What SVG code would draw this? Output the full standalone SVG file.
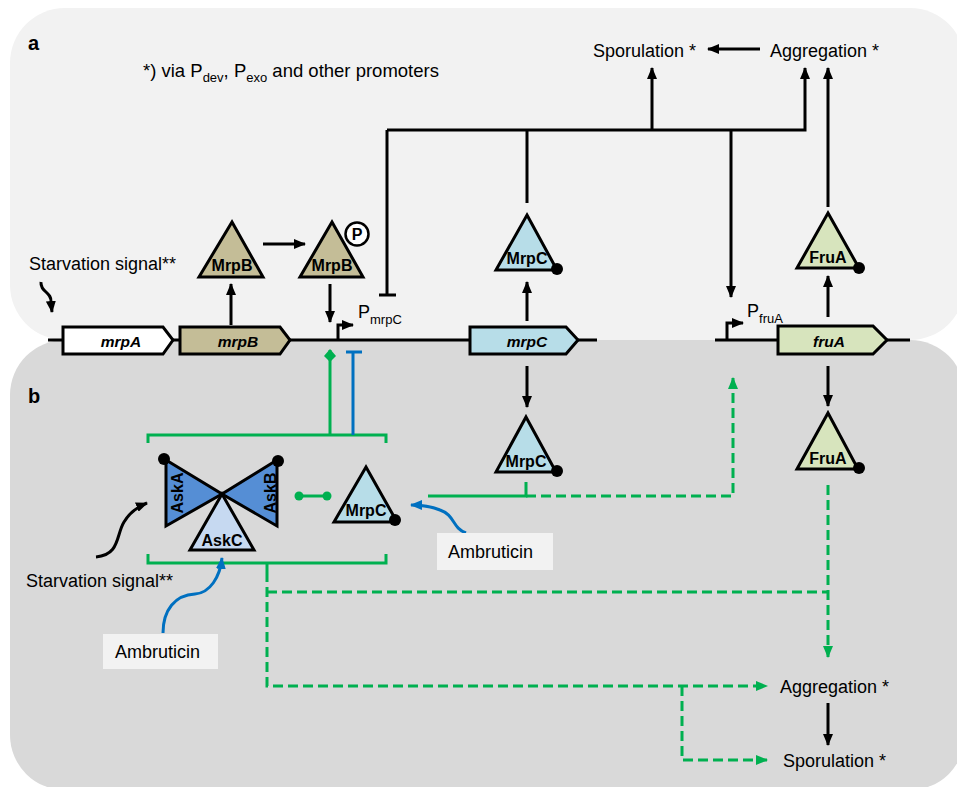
<svg xmlns="http://www.w3.org/2000/svg" width="957" height="787" viewBox="0 0 957 787">
<defs>
<style>
text{font-family:"Liberation Sans",Arial,sans-serif;fill:#000}
.lbl{font-size:18px}
.tri{stroke:#000;stroke-width:3;stroke-linejoin:miter}
.tt{font-size:16px;font-weight:bold;text-anchor:middle}
.gene{stroke:#000;stroke-width:3;stroke-linejoin:miter}
.gt{font-size:15.5px;font-weight:bold;font-style:italic;text-anchor:middle}
.bk{fill:none;stroke:#000;stroke-width:3}
.gr{fill:none;stroke:#00b050;stroke-width:3}
.grd{fill:none;stroke:#00b050;stroke-width:3;stroke-dasharray:10 5}
.bl{fill:none;stroke:#0070c0;stroke-width:3}
.dot{fill:#000}
.mb{fill:#c4bd97}.mc{fill:#b7dde8}.fa{fill:#d7e4bd}.ab{fill:#558ed5}.ac{fill:#c6d9f1}
</style>
<marker id="ak" markerUnits="userSpaceOnUse" markerWidth="12" markerHeight="10" refX="11" refY="5" orient="auto"><path d="M0,0 L12,5 L0,10 Z" fill="#000"/></marker>
<marker id="ag" markerUnits="userSpaceOnUse" markerWidth="12" markerHeight="10" refX="11" refY="5" orient="auto"><path d="M0,0 L12,5 L0,10 Z" fill="#00b050"/></marker>
<marker id="ab" markerUnits="userSpaceOnUse" markerWidth="12" markerHeight="10" refX="11" refY="5" orient="auto"><path d="M0,0 L12,5 L0,10 Z" fill="#0070c0"/></marker>
<marker id="dg" markerUnits="userSpaceOnUse" markerWidth="14" markerHeight="12" refX="12" refY="6" orient="auto"><path d="M0,6 L6,0 L13,6 L6,12 Z" fill="#00b050"/></marker>
</defs>

<g id="panels">
<rect x="10" y="8" width="955" height="332" rx="55" fill="#f2f2f2"/>
<rect x="10" y="340" width="955" height="450" rx="55" fill="#d9d9d9"/>
</g>

<g id="labels">
<text x="28" y="50" style="font-size:20px;font-weight:bold">a</text>
<text x="28" y="403" style="font-size:20px;font-weight:bold">b</text>
<text x="143" y="77" style="font-size:18.5px">*) via P<tspan dy="5" style="font-size:13px">dev</tspan><tspan dy="-5">, P</tspan><tspan dy="5" style="font-size:13px">exo</tspan><tspan dy="-5"> and other promoters</tspan></text>
</g>

<g id="dna">
<line x1="48" y1="340" x2="597" y2="340" stroke="#000" stroke-width="3"/>
<line x1="715" y1="340" x2="910" y2="340" stroke="#000" stroke-width="3"/>
</g>

<g id="connectors">
<!-- black -->
<path class="bk" d="M231,325 V284" marker-end="url(#ak)"/>
<path class="bk" d="M263,244 H305" marker-end="url(#ak)"/>
<path class="bk" d="M330,284 V322" marker-end="url(#ak)"/>
<path class="bk" d="M387,130 V295 M379,295 H396"/>
<path class="bk" d="M387,130 H805 V68" marker-end="url(#ak)"/>
<path class="bk" d="M652,130 V68" marker-end="url(#ak)"/>
<path class="bk" d="M527,203 V130"/>
<path class="bk" d="M731,130 V297" marker-end="url(#ak)"/>
<path class="bk" d="M828,207 V68" marker-end="url(#ak)"/>
<path class="bk" d="M527,321 V282" marker-end="url(#ak)"/>
<path class="bk" d="M828,317 V276" marker-end="url(#ak)"/>
<path class="bk" d="M527,366 V407" marker-end="url(#ak)"/>
<path class="bk" d="M828,366 V406" marker-end="url(#ak)"/>
<path class="bk" d="M760,49 H708" marker-end="url(#ak)"/>
<path class="bk" d="M828,703 V745" marker-end="url(#ak)"/>
<path class="bk" d="M338,340 V325 H353" stroke-width="2.5" marker-end="url(#ak)"/>
<path class="bk" d="M727,340 V323 H743" stroke-width="2.5" marker-end="url(#ak)"/>
<path class="bk" d="M41,282 C40,292 52,292 51,302 L52,312" marker-end="url(#ak)"/>
<path class="bk" d="M96,557 C120,555 116,535 124,522 C130,512 137,507 147,503" marker-end="url(#ak)"/>
<!-- green -->
<path class="gr" d="M330,435 V350" marker-end="url(#dg)"/>
<path class="gr" d="M148,443 V435 H386 V443"/>
<path class="gr" d="M148,554 V563 H386 V554"/>
<path class="gr" d="M299,496 H327"/>
<circle cx="299" cy="496" r="4.5" fill="#00b050"/>
<circle cx="327" cy="496" r="4.5" fill="#00b050"/>
<path class="gr" d="M428,496 H526 V482"/>
<path class="grd" d="M526,496 H733 V378" marker-end="url(#ag)"/>
<path class="gr" d="M267,563 V572"/>
<path class="grd" d="M267,572 V686 H767" marker-end="url(#ag)"/>
<path class="grd" d="M267,592 H828"/>
<path class="grd" d="M682,686 V760 H767" marker-end="url(#ag)"/>
<path class="grd" d="M828,485 V657" marker-end="url(#ag)"/>
<!-- blue -->
<path class="bl" d="M353,435 V352 M346,352 H362"/>
<path class="bl" d="M466,533 C452,528 455,515 440,510 C430,506 420,505 411,505" marker-end="url(#ab)"/>
<path class="bl" d="M163,633 C163,610 175,595 195,594 C210,593 220,577 222,558" marker-end="url(#ab)"/>
</g>

<g id="gene-mrpA">
<polygon class="gene" points="63,327 163,327 173,340 163,354 63,354" fill="#fff"/>
<text class="gt" x="121" y="347">mrpA</text>
</g>
<g id="gene-mrpB">
<polygon class="gene mb" points="180,327 280,327 290,340 280,354 180,354"/>
<text class="gt" x="238" y="347">mrpB</text>
</g>
<g id="gene-mrpC">
<polygon class="gene mc" points="470,327 566,327 578,340 566,354 470,354"/>
<text class="gt" x="527" y="347">mrpC</text>
</g>
<g id="gene-fruA">
<polygon class="gene fa" points="778,326 873,326 887,340 873,354 778,354"/>
<text class="gt" x="829" y="347">fruA</text>
</g>

<g id="promoters">
<text class="lbl" x="358" y="318">P<tspan dy="6" style="font-size:13px">mrpC</tspan></text>
<text class="lbl" x="747" y="317">P<tspan dy="6" style="font-size:13px">fruA</tspan></text>
</g>

<g id="MrpB">
<polygon class="tri mb" points="232,222 263,277 199,277"/>
<text class="tt" x="232" y="271">MrpB</text>
</g>
<g id="MrpB-P">
<polygon class="tri mb" points="332,222 363,277 300,277"/>
<text class="tt" x="332" y="271">MrpB</text>
<circle cx="357" cy="234" r="11.5" fill="#fff" stroke="#000" stroke-width="2.5"/>
<text class="tt" x="357" y="240">P</text>
</g>
<g id="MrpC-top">
<polygon class="tri mc" points="527,215 557,270 496,270"/>
<text class="tt" x="527" y="264">MrpC</text>
<circle class="dot" cx="557" cy="269" r="6"/>
</g>
<g id="FruA-top">
<polygon class="tri fa" points="828,213 859,268 797,268"/>
<text class="tt" x="828" y="263">FruA</text>
<circle class="dot" cx="859" cy="268" r="6"/>
</g>
<g id="MrpC-bottom">
<polygon class="tri mc" points="526,417 556,472 496,472"/>
<text class="tt" x="526" y="467">MrpC</text>
<circle class="dot" cx="557" cy="471" r="6"/>
</g>
<g id="FruA-bottom">
<polygon class="tri fa" points="828,413 858,469 797,469"/>
<text class="tt" x="828" y="464">FruA</text>
<circle class="dot" cx="859" cy="468" r="6"/>
</g>

<g id="AskA">
<polygon class="tri ab" points="166,460 222,494 166,526"/>
<text class="tt" transform="translate(183,493) rotate(-90)" x="0" y="0">AskA</text>
<circle class="dot" cx="164" cy="459" r="6"/>
</g>
<g id="AskB">
<polygon class="tri ab" points="277,460 222,494 277,526"/>
<text class="tt" transform="translate(276,493) rotate(-90)" x="0" y="0">AskB</text>
<circle class="dot" cx="278" cy="461" r="6"/>
</g>
<g id="AskC">
<polygon class="tri ac" points="222,494 254,550 190,550"/>
<text class="tt" x="222" y="546">AskC</text>
</g>
<g id="MrpC-complex">
<polygon class="tri mc" points="366,467 397,522 334,522"/>
<text class="tt" x="366" y="516">MrpC</text>
<circle class="dot" cx="395" cy="520" r="6"/>
</g>

<g id="starvation-a"><text class="lbl" x="29" y="270">Starvation signal**</text></g>
<g id="starvation-b"><text class="lbl" x="26" y="587">Starvation signal**</text></g>
<g id="sporulation-a"><text class="lbl" x="593" y="57">Sporulation *</text></g>
<g id="aggregation-a"><text class="lbl" x="770" y="57">Aggregation *</text></g>
<g id="aggregation-b"><text class="lbl" x="780" y="693">Aggregation *</text></g>
<g id="sporulation-b"><text class="lbl" x="783" y="767">Sporulation *</text></g>
<g id="ambruticin-1">
<rect x="437" y="533" width="116" height="37" fill="#f2f2f2"/>
<text class="lbl" x="448" y="558">Ambruticin</text>
</g>
<g id="ambruticin-2">
<rect x="103" y="634" width="115" height="35" fill="#f2f2f2"/>
<text class="lbl" x="115" y="658">Ambruticin</text>
</g>
</svg>
